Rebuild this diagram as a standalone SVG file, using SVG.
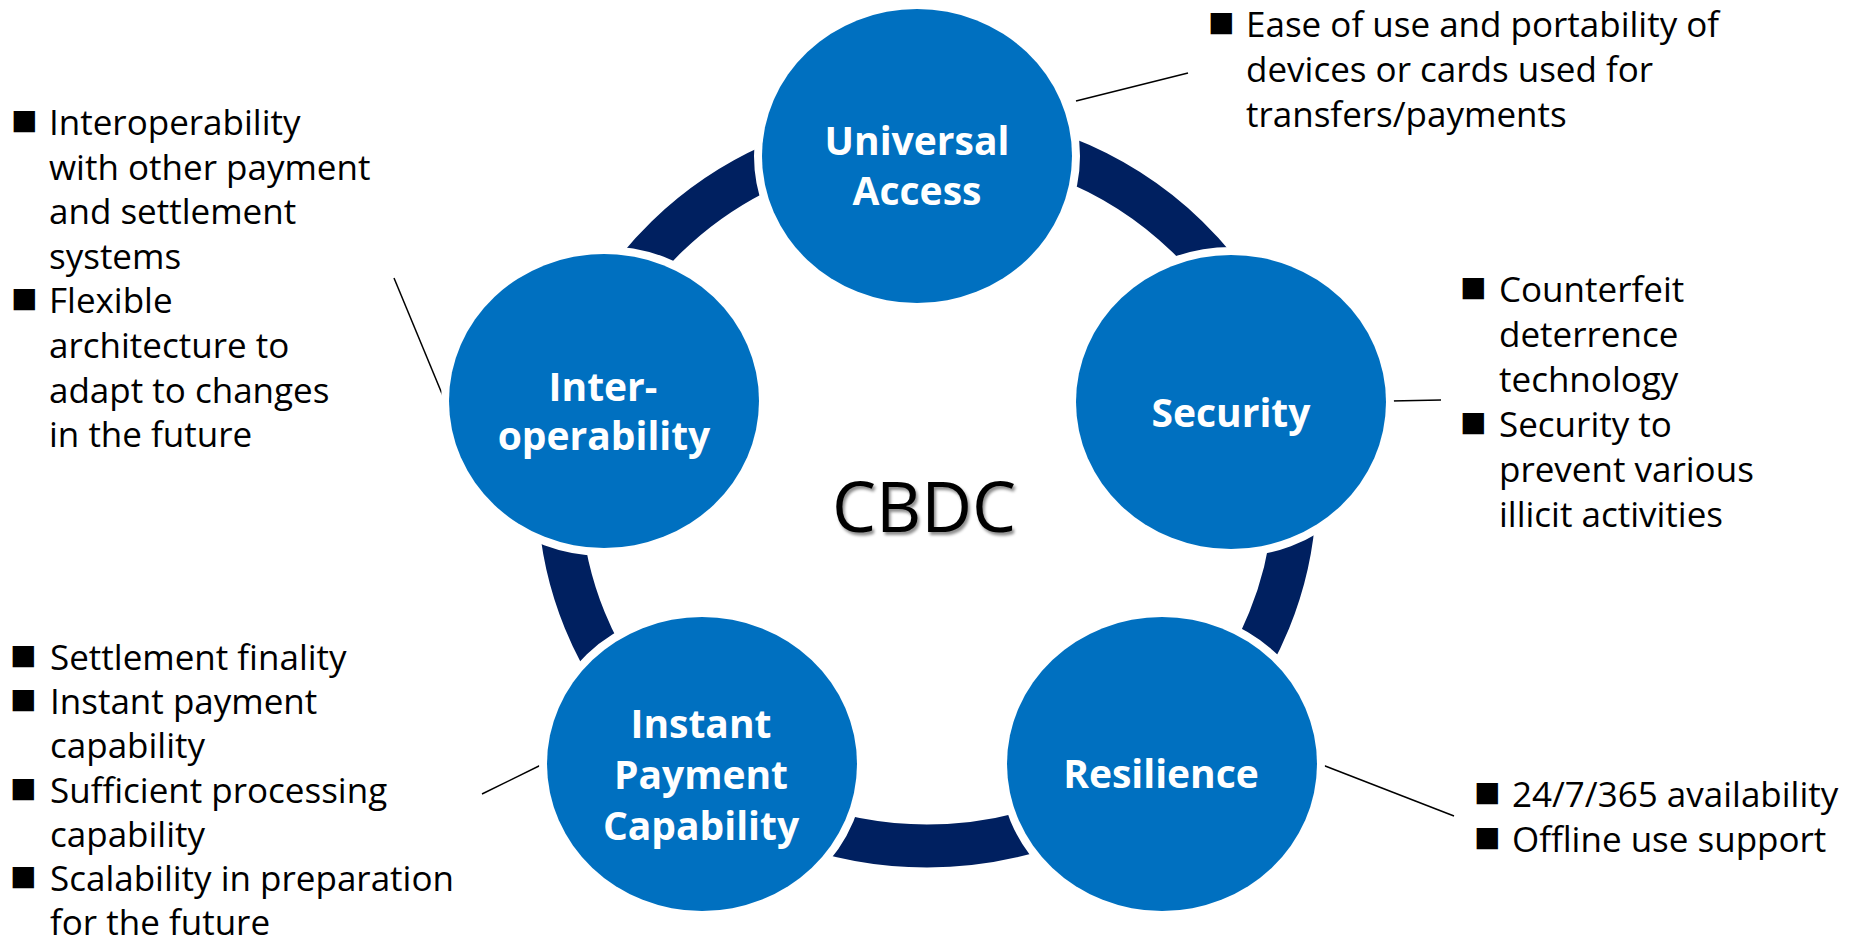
<svg xmlns="http://www.w3.org/2000/svg" width="1857" height="946" viewBox="0 0 1857 946">
<defs>
<style>
.node{fill:#0070C0;stroke:#FFFFFF;stroke-width:16;paint-order:stroke}
.lbl{font-family:"Open Sans","Noto Sans",sans-serif;font-weight:bold;font-size:39px;fill:#FFFFFF;text-anchor:middle}
.txt{font-family:"Open Sans","Noto Sans",sans-serif;font-size:35px;fill:#000000}
.bul{font-family:"Liberation Sans",sans-serif;font-size:44px;fill:#000000}
.conn{stroke:#000000;stroke-width:1.5;fill:none}
</style>
<filter id="shadow" x="-10%" y="-10%" width="130%" height="140%">
<feDropShadow dx="2" dy="3" stdDeviation="1.5" flood-color="#000000" flood-opacity="0.45"/>
</filter>
</defs>
<rect width="1857" height="946" fill="#FFFFFF"/>
<g id="ring">
<ellipse cx="927" cy="489" rx="368" ry="357" fill="none" stroke="#002060" stroke-width="43"/>
</g>
<g id="connectors">
<line class="conn" x1="1076" y1="101" x2="1188" y2="73"/>
<line class="conn" x1="394" y1="278" x2="445" y2="401"/>
<line class="conn" x1="1391" y1="401" x2="1441" y2="400"/>
<line class="conn" x1="482" y1="794" x2="543" y2="764"/>
<line class="conn" x1="1320" y1="764" x2="1454" y2="816"/>
</g>
<g id="node-universal-access">
<ellipse class="node" cx="917" cy="156" rx="155" ry="147"/>
<text class="lbl" x="917" y="155">Universal</text>
<text class="lbl" x="917" y="205">Access</text>
</g>
<g id="node-security">
<ellipse class="node" cx="1231" cy="402" rx="155" ry="147"/>
<text class="lbl" x="1231" y="427">Security</text>
</g>
<g id="node-resilience">
<ellipse class="node" cx="1162" cy="764" rx="155" ry="147"/>
<text class="lbl" x="1161" y="788">Resilience</text>
</g>
<g id="node-instant-payment">
<ellipse class="node" cx="702" cy="764" rx="155" ry="147"/>
<text class="lbl" x="701" y="738">Instant</text>
<text class="lbl" x="701" y="789">Payment</text>
<text class="lbl" x="701" y="840">Capability</text>
</g>
<g id="node-interoperability">
<ellipse class="node" cx="604" cy="401" rx="155" ry="147"/>
<text class="lbl" x="603" y="401">Inter-</text>
<text class="lbl" x="604" y="450">operability</text>
</g>
<g id="center-label">
<text x="924" y="532" font-family="'Open Sans','Noto Sans',sans-serif" font-size="70" fill="#000000" text-anchor="middle" filter="url(#shadow)">CBDC</text>
</g>
<g id="notes-universal-access">
<text class="bul" x="1208" y="37">■</text>
<text class="txt" x="1246" y="37">Ease of use and portability of</text>
<text class="txt" x="1246" y="82">devices or cards used for</text>
<text class="txt" x="1246" y="127">transfers/payments</text>
</g>
<g id="notes-interoperability">
<text class="bul" x="11" y="135">■</text>
<text class="txt" x="49" y="135">Interoperability</text>
<text class="txt" x="49" y="179.6">with other payment</text>
<text class="txt" x="49" y="224.2">and settlement</text>
<text class="txt" x="49" y="268.8">systems</text>
<text class="bul" x="11" y="313.4">■</text>
<text class="txt" x="49" y="313.4">Flexible</text>
<text class="txt" x="49" y="358">architecture to</text>
<text class="txt" x="49" y="402.6">adapt to changes</text>
<text class="txt" x="49" y="447.2">in the future</text>
</g>
<g id="notes-security">
<text class="bul" x="1460" y="302">■</text>
<text class="txt" x="1499" y="302">Counterfeit</text>
<text class="txt" x="1499" y="347">deterrence</text>
<text class="txt" x="1499" y="392">technology</text>
<text class="bul" x="1460" y="437">■</text>
<text class="txt" x="1499" y="437">Security to</text>
<text class="txt" x="1499" y="482">prevent various</text>
<text class="txt" x="1499" y="527">illicit activities</text>
</g>
<g id="notes-instant-payment">
<text class="bul" x="10" y="670">■</text>
<text class="txt" x="50" y="670">Settlement finality</text>
<text class="bul" x="10" y="714.2">■</text>
<text class="txt" x="50" y="714.2">Instant payment</text>
<text class="txt" x="50" y="758.4">capability</text>
<text class="bul" x="10" y="802.6">■</text>
<text class="txt" x="50" y="802.6">Sufficient processing</text>
<text class="txt" x="50" y="846.8">capability</text>
<text class="bul" x="10" y="891">■</text>
<text class="txt" x="50" y="891">Scalability in preparation</text>
<text class="txt" x="50" y="935.2">for the future</text>
</g>
<g id="notes-resilience">
<text class="bul" x="1474" y="807">■</text>
<text class="txt" x="1512" y="807">24/7/365 availability</text>
<text class="bul" x="1474" y="852">■</text>
<text class="txt" x="1512" y="852">Offline use support</text>
</g>
</svg>
